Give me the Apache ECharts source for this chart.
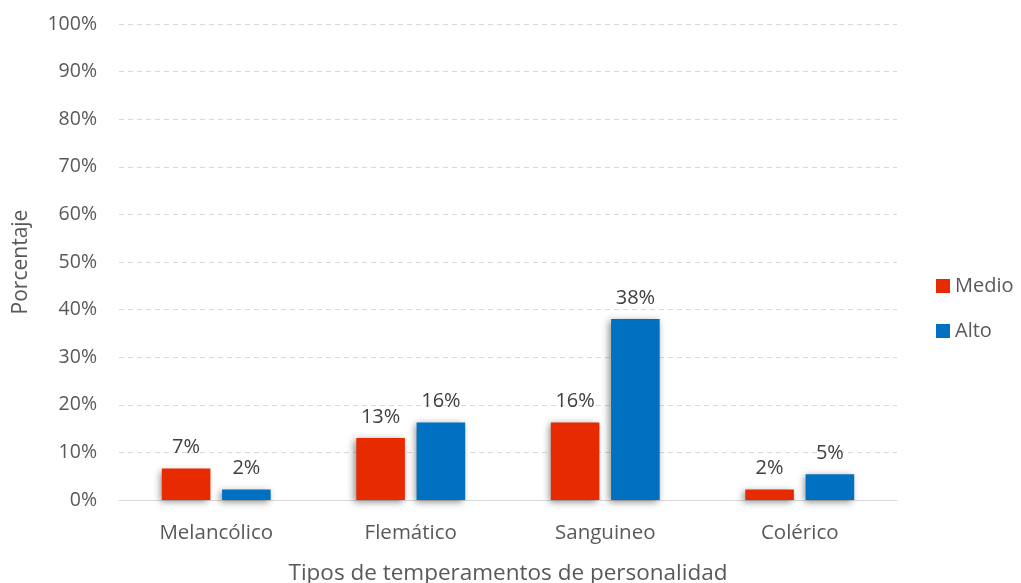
<!DOCTYPE html>
<html>
<head>
<meta charset="utf-8">
<script src="https://cdn.jsdelivr.net/npm/echarts@6/dist/echarts.min.js"></script>
<style>
  html, body { margin: 0; padding: 0; background: #fff; }
  #chart { width: 1021px; height: 583px; }
</style>
</head>
<body>
<div id="chart"></div>
<script>
// datos
var categorias = ['Melancólico', 'Flemático', 'Sanguineo', 'Colérico'];
var medio = [6.6, 13.0, 16.3, 2.2];
var alto = [2.2, 16.3, 38.0, 5.4];
var colores = ['#E82A00', '#0070C0'];

var fuente = 'Open Sans';
var gris = '#595959';

var chart = echarts.init(document.getElementById('chart'));

function serie(nombre, datos, color) {
  return {
    name: nombre,
    type: 'bar',
    data: datos,
    barWidth: '25%',
    barGap: '24%',
    itemStyle: {
      color: color,
      shadowColor: 'rgba(0,0,0,0.45)',
      shadowBlur: 7,
      shadowOffsetX: -2,
      shadowOffsetY: 2
    },
    label: {
      show: true,
      position: 'top',
      distance: 11,
      color: '#404040',
      fontFamily: fuente,
      fontSize: 20,
      formatter: function (p) { return Math.round(p.value) + '%'; }
    }
  };
}

var option = {
  animation: false,
  color: colores,
  grid: { left: 119, right: 124, top: 24, bottom: 83, outerBoundsMode: 'none' },
  legend: {
    orient: 'vertical',
    left: 931,
    top: 271,
    itemWidth: 14,
    itemHeight: 14,
    itemGap: 25,
    itemTextGap: 6,
    icon: 'rect',
    textStyle: { color: gris, fontFamily: fuente, fontSize: 20 },
    data: ['Medio', 'Alto']
  },
  xAxis: {
    type: 'category',
    data: categorias,
    name: 'Tipos de temperamentos de personalidad',
    nameLocation: 'middle',
    nameGap: 62,
    nameTextStyle: { color: gris, fontFamily: fuente, fontSize: 22.5 },
    axisLine: { lineStyle: { color: '#d9d9d9', width: 1 } },
    axisTick: { show: false },
    axisLabel: { color: gris, fontFamily: fuente, fontSize: 20.5, margin: 23 }
  },
  yAxis: {
    type: 'value',
    min: 0,
    max: 100,
    interval: 10,
    name: 'Porcentaje',
    nameLocation: 'middle',
    nameGap: 87,
    nameTextStyle: { color: gris, fontFamily: fuente, fontSize: 21 },
    axisLine: { show: false },
    axisTick: { show: false },
    axisLabel: {
      color: gris, fontFamily: fuente, fontSize: 19.5, margin: 22,
      formatter: '{value}%'
    },
    splitLine: { lineStyle: { color: '#d9d9d9', type: [5, 4], width: 1 } }
  },
  series: [
    serie('Medio', medio, colores[0]),
    serie('Alto', alto, colores[1])
  ]
};

chart.setOption(option);
</script>
</body>
</html>
